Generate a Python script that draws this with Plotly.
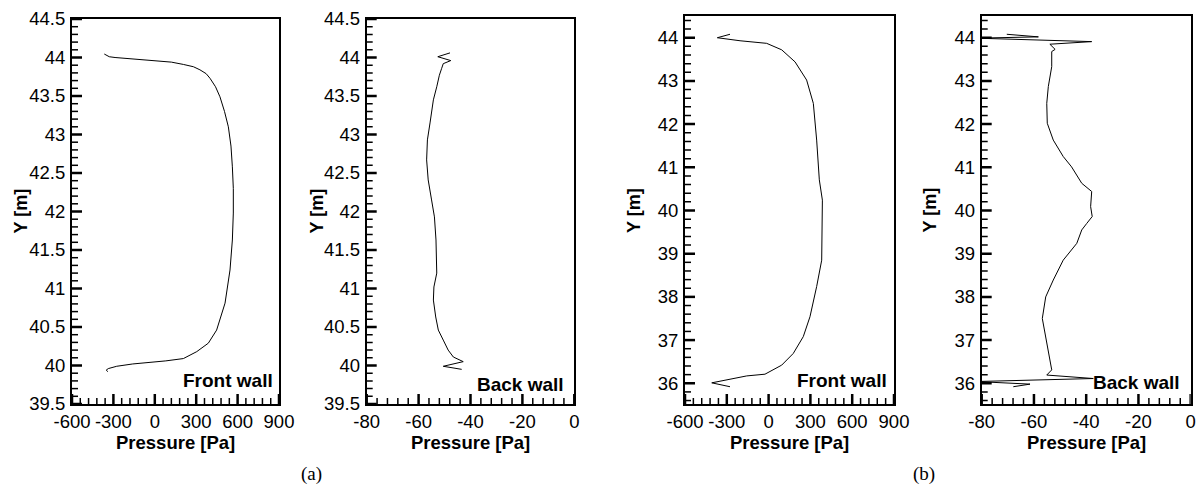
import numpy as np
import plotly.graph_objects as go

# ---------------- data ----------------
# (a) front wall
a_front_p = [-366, -345, -330, -288, -150, -11, 120, 207, 280, 327, 372, 400, 440, 472, 505, 533, 552, 562,
             569, 569, 562, 545, 509, 448, 388, 304, 207, 80, -35, -160, -276, -337, -352, -340]
a_front_y = [44.045, 44.02, 44.01, 44.0, 43.98, 43.96, 43.94, 43.91, 43.88, 43.84, 43.79, 43.73, 43.62, 43.49,
             43.3, 43.1, 42.85, 42.58, 42.3, 41.98, 41.63, 41.24, 40.81, 40.46, 40.29, 40.18, 40.09, 40.06,
             40.04, 40.02, 39.99, 39.96, 39.94, 39.92]
# (a) back wall
a_back_p = [-47.9, -52.6, -47.6, -50.5, -51.1, -52.0, -53.0, -54.3, -55.6, -56.6, -56.9, -56.3, -55.0,
            -53.9, -53.3, -53.0, -54.1, -54.3, -53.4, -52.4, -50.5, -48.6, -46.6, -42.8, -50.5, -43.4]
a_back_y = [44.06, 44.01, 43.96, 43.92, 43.86, 43.77, 43.62, 43.45, 43.15, 42.93, 42.67, 42.41, 42.15,
            41.93, 41.63, 41.2, 41.02, 40.85, 40.63, 40.46, 40.33, 40.2, 40.11, 40.05, 39.99, 39.95]
# (b) front wall
b_front_p = [-277, -368, -205, -14, 94, 190, 273, 321, 345, 364, 386, 386, 381, 345, 297, 249, 177, 94,
             -26, -157, -408, -277]
b_front_y = [44.08, 44.0, 43.93, 43.87, 43.72, 43.44, 43.02, 42.48, 41.63, 40.71, 40.24, 39.47, 38.85,
             38.24, 37.54, 37.08, 36.69, 36.42, 36.21, 36.17, 36.01, 35.92]
# (b) back wall
b_back_p = [-70.4, -58.3, -82, -37.9, -53.9, -51.9, -53.2, -53.2, -54.5, -55.1, -54.9, -52.6, -48.8, -45.6,
            -41.7, -37.9, -38.3, -37.7, -39.8, -41.7, -43.6, -48.8, -52.6, -55.5, -56.8, -55.5, -54.2,
            -53.2, -55.1, -37.3, -82, -61.5, -67.9]
b_back_y = [44.08, 44.02, 43.99, 43.91, 43.85, 43.73, 43.68, 43.33, 42.87, 42.48, 42.02, 41.63, 41.25, 41.01,
            40.63, 40.44, 40.09, 39.86, 39.7, 39.55, 39.24, 38.85, 38.39, 38.0, 37.5, 37.08, 36.69,
            36.31, 36.19, 36.11, 36.04, 35.98, 35.92]

front_xticks = [-600, -300, 0, 300, 600, 900]
front_xlabels = ["-600", "-300", "0", "300", "600", "900"]
back_xticks = [-80, -60, -40, -20, 0]
back_xlabels = ["-80", "-60", "-40", "-20", "0"]
a_yticks = [39.5, 40, 40.5, 41, 41.5, 42, 42.5, 43, 43.5, 44, 44.5]
a_ylabels = ["39.5", "40", "40.5", "41", "41.5", "42", "42.5", "43", "43.5", "44", "44.5"]
b_yticks = [36, 37, 38, 39, 40, 41, 42, 43, 44]
b_ylabels = ["36", "37", "38", "39", "40", "41", "42", "43", "44"]

# ---------------- figure ----------------
W, H = 1204, 492
FONT = "Liberation Sans, Arial, sans-serif"

def px(x):
    return x / W

def py(y):
    return 1 - y / H

panels = [  # left, right, top, bottom (px)
    (72, 279, 19, 404),
    (366.7, 574.3, 19, 404),
    (685, 894, 15.7, 404),
    (981.7, 1190.7, 15.7, 404),
]
xcfg = [
    ([-600, 900], front_xticks, front_xlabels, 60),
    ([-80, 0], back_xticks, back_xlabels, 4),
    ([-600, 900], front_xticks, front_xlabels, 60),
    ([-80, 0], back_xticks, back_xlabels, 4),
]
ycfg = [
    ([39.5, 44.5], a_yticks, a_ylabels, 0.1),
    ([39.5, 44.5], a_yticks, a_ylabels, 0.1),
    ([35.52, 44.51], b_yticks, b_ylabels, 0.2),
    ([35.52, 44.51], b_yticks, b_ylabels, 0.2),
]

fig = go.Figure()
series = [(a_front_p, a_front_y), (a_back_p, a_back_y), (b_front_p, b_front_y), (b_back_p, b_back_y)]
for i, (p, y) in enumerate(series):
    sfx = "" if i == 0 else str(i + 1)
    fig.add_trace(go.Scatter(x=p, y=y, mode="lines", line=dict(color="black", width=1),
                             xaxis="x" + sfx, yaxis="y" + sfx, showlegend=False, hoverinfo="skip"))

layout = dict(template="none", width=W, height=H, margin=dict(l=0, r=0, t=0, b=0, pad=0),
              paper_bgcolor="white", plot_bgcolor="white", showlegend=False)

tickfont = dict(family=FONT, size=18.5, color="black")
MAJ_LEN, MIN_LEN = 10, 6

def minor_vals(rng, step, majors):
    start = np.ceil(rng[0] / step - 1e-6) * step
    vals = np.arange(start, rng[1] + 1e-9, step)
    return [float(v) for v in vals if all(abs(v - m) > step * 0.1 for m in majors)]

for i in range(4):
    sfx = "" if i == 0 else str(i + 1)
    l, r, t, b = panels[i]
    xr, xt, xl, xm = xcfg[i]
    yr, yt, yl, ym = ycfg[i]
    layout["xaxis" + sfx] = dict(domain=[px(l), px(r)], range=xr, anchor="y" + sfx, showline=True,
                                 linewidth=2, linecolor="black", mirror=True, ticks="", showgrid=False,
                                 zeroline=False, automargin=False, tickmode="array", tickvals=xt,
                                 ticktext=xl, tickfont=tickfont, ticklabelstandoff=0)
    layout["yaxis" + sfx] = dict(domain=[py(b), py(t)], range=yr, anchor="x" + sfx, showline=True,
                                 linewidth=2, linecolor="black", mirror=True, ticks="", showgrid=False,
                                 zeroline=False, automargin=False, tickmode="array", tickvals=yt,
                                 ticktext=yl, tickfont=tickfont, ticklabelstandoff=1)
    hpx, wpx = b - t, r - l
    # inward tick marks drawn as line traces through the axis scales
    for ln, w, xv, yv in [(MAJ_LEN, 2.5, xt, yt),
                          (MIN_LEN, 1.5, minor_vals(xr, xm, xt), minor_vals(yr, ym, yt))]:
        dy = ln / hpx * (yr[1] - yr[0])
        dx = ln / wpx * (xr[1] - xr[0])
        tx, ty = [], []
        for v in xv:
            tx += [v, v, None]
            ty += [yr[0], yr[0] + dy, None]
        for v in yv:
            tx += [xr[0], xr[0] + dx, None]
            ty += [v, v, None]
        fig.add_trace(go.Scatter(x=tx, y=ty, mode="lines", line=dict(color="black", width=w, simplify=False),
                                 connectgaps=False, xaxis="x" + sfx, yaxis="y" + sfx,
                                 showlegend=False, hoverinfo="skip"))

fig.update_layout(**layout)

# titles & labels
ytitle_x = [20, 316, 634, 929.5]
ytitle_y = [211.5, 211.5, 210, 210]
for i in range(4):
    l, r, t, b = panels[i]
    fig.add_annotation(text="<b>Y [m]</b>", x=px(ytitle_x[i]), y=py(ytitle_y[i]), xref="paper", yref="paper",
                       textangle=-90, showarrow=False, xanchor="center", yanchor="middle",
                       font=dict(family=FONT, size=18, color="black"))
    fig.add_annotation(text="<b>Pressure [Pa]</b>", x=px((l + r) / 2), y=py(442.5), xref="paper",
                       yref="paper", showarrow=False, xanchor="center", yanchor="middle",
                       font=dict(family=FONT, size=18.5, color="black"))

wall_labels = [("Front wall", 274.5, 380), ("Back wall", 566, 384), ("Front wall", 888.5, 380),
               ("Back wall", 1182, 382)]
for txt, xr_, yc in wall_labels:
    fig.add_annotation(text="<b>" + txt + "</b>", x=px(xr_), y=py(yc), xref="paper", yref="paper",
                       showarrow=False, xanchor="right", yanchor="middle",
                       font=dict(family=FONT, size=19, color="black"))

for txt, xc in [("(a)", 311), ("(b)", 924)]:
    fig.add_annotation(text=txt, x=px(xc), y=py(474), xref="paper", yref="paper", showarrow=False,
                       xanchor="center", yanchor="middle",
                       font=dict(family="Liberation Serif, Times New Roman, serif", size=19, color="black"))

fig.write_html("out.html")
